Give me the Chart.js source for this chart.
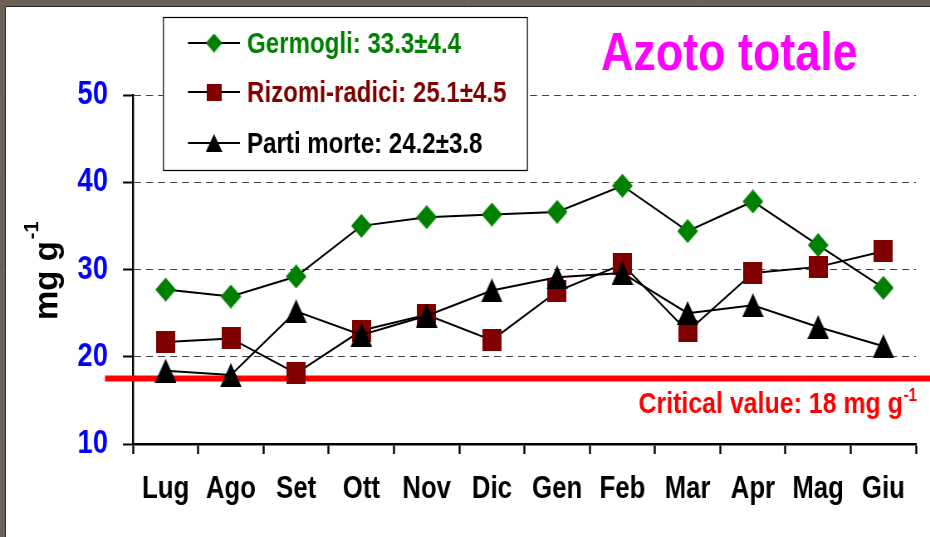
<!DOCTYPE html>
<html>
<head>
<meta charset="utf-8">
<script src="https://cdn.jsdelivr.net/npm/chart.js@4.4.1/dist/chart.umd.min.js"></script>
<style>
  html, body { margin: 0; padding: 0; background: #fff; overflow: hidden; }
  #wrap { width: 930px; height: 537px; }
  /* il grafico originale e' compresso in orizzontale: disegno largo e stringo col CSS */
  #azoto { display: block; width: 930px !important; height: 537px !important; }
</style>
</head>
<body>
<div id="wrap"><canvas id="azoto" width="1120" height="537"></canvas></div>
<script>
// dati (mg g-1)
const mesi = ['Lug', 'Ago', 'Set', 'Ott', 'Nov', 'Dic', 'Gen', 'Feb', 'Mar', 'Apr', 'Mag', 'Giu']
const germogli = [27.7, 26.9, 29.2, 35.0, 36.0, 36.3, 36.6, 39.6, 34.4, 37.8, 32.8, 27.9]
const rizomi = [21.7, 22.1, 18.1, 23.0, 24.8, 21.9, 27.5, 30.6, 22.9, 29.6, 30.3, 32.1]
const partiMorte = [18.4, 17.9, 25.2, 22.5, 24.7, 27.6, 29.1, 29.6, 25.0, 25.9, 23.4, 21.2]
const etichette = ['Germogli: 33.3±4.4', 'Rizomi-radici: 25.1±4.5', 'Parti morte: 24.2±3.8']
const yTicks = [10, 20, 30, 40, 50]
const valoreCritico = 17.5
const testoCritico = 'Critical value: 18 mg g'
const titolo = 'Azoto totale'

const FONT = '"Liberation Sans", Arial, sans-serif'
const VERDE = '#008000'
const ROSSO_SCURO = '#800000'

// larghezza interna del canvas / larghezza a schermo
const K = 930 / 1120
const sx = (x) => x / K

const marker = (tipo, colore, w, h) => {
  const c = document.createElement('canvas')
  c.width = Math.round(w / K)
  c.height = h
  const W = c.width
  const g = c.getContext('2d')
  g.fillStyle = colore
  g.beginPath()
  if (tipo == 'diamond') {
    g.moveTo(W / 2, 0); g.lineTo(W, h / 2); g.lineTo(W / 2, h); g.lineTo(0, h / 2)
  } else if (tipo == 'square') {
    g.rect(0, 0, W, h)
  } else {
    g.moveTo(W / 2, 0); g.lineTo(W, h); g.lineTo(0, h)
  }
  g.closePath()
  g.fill()
  return c
}

const punti = [
  marker('diamond', VERDE, 21, 24),
  marker('square', ROSSO_SCURO, 19, 22),
  marker('triangle', '#000', 22, 24)
]
const puntiLegenda = [
  marker('diamond', VERDE, 17, 19),
  marker('square', ROSSO_SCURO, 15, 17),
  marker('triangle', '#000', 17, 18)
]
const coloriTesto = [VERDE, ROSSO_SCURO, '#000']

const decori = {
  id: 'decori',
  beforeDraw: (chart) => {
    const ctx = chart.ctx
    ctx.save()
    ctx.fillStyle = '#6d6155'
    ctx.fillRect(0, 0, chart.width, chart.height)
    ctx.fillStyle = '#fff'
    ctx.fillRect(sx(5), 6, chart.width, chart.height)
    ctx.strokeStyle = '#222'
    ctx.lineWidth = 1
    ctx.beginPath()
    ctx.moveTo(sx(5) + 0.5, chart.height)
    ctx.lineTo(sx(5) + 0.5, 6.5)
    ctx.lineTo(chart.width, 6.5)
    ctx.stroke()
    ctx.restore()
  },
  beforeDatasetsDraw: (chart) => {
    const ctx = chart.ctx
    const y = chart.scales.y.getPixelForValue(valoreCritico)
    ctx.save()
    ctx.strokeStyle = '#ff0000'
    ctx.lineWidth = 6
    ctx.beginPath()
    ctx.moveTo(sx(105), y)
    ctx.lineTo(chart.width, y)
    ctx.stroke()
    ctx.restore()
  },
  afterDraw: (chart) => {
    const ctx = chart.ctx
    ctx.save()

    // legenda
    ctx.fillStyle = '#fff'
    ctx.fillRect(sx(163), 17, sx(364), 153)
    ctx.strokeStyle = '#000'
    ctx.lineWidth = 1.2
    ctx.strokeRect(sx(163) + 0.5, 17.5, sx(364), 153)
    const righe = [43, 92, 143]
    ctx.font = 'bold 29px ' + FONT
    ctx.textAlign = 'left'
    ctx.textBaseline = 'alphabetic'
    chart.data.datasets.forEach((ds, i) => {
      const y = righe[i]
      ctx.strokeStyle = '#000'
      ctx.lineWidth = 2
      ctx.beginPath()
      ctx.moveTo(sx(188), y)
      ctx.lineTo(sx(240), y)
      ctx.stroke()
      const m = puntiLegenda[i]
      ctx.drawImage(m, sx(214) - m.width / 2, y - m.height / 2)
      ctx.fillStyle = coloriTesto[i]
      ctx.fillText(ds.label, sx(247), y + 10)
    })

    // titolo
    ctx.fillStyle = '#ff00ff'
    ctx.font = 'bold 54px ' + FONT
    ctx.fillText(titolo, sx(601), 70)

    // etichetta valore critico
    ctx.fillStyle = '#ff0000'
    ctx.font = 'bold 18px ' + FONT
    const wSup = ctx.measureText('-1').width
    ctx.font = 'bold 30px ' + FONT
    const wTesto = ctx.measureText(testoCritico).width
    const x0 = sx(917) - wSup - 1 - wTesto
    ctx.fillText(testoCritico, x0, 413)
    ctx.font = 'bold 18px ' + FONT
    ctx.fillText('-1', x0 + wTesto + 1, 401)

    // titolo asse y (non compresso: ruotato)
    ctx.fillStyle = '#000'
    ctx.translate(sx(57), 320)
    ctx.scale(1 / K, 1)
    ctx.rotate(-Math.PI / 2)
    ctx.font = 'bold 33px ' + FONT
    const wMg = ctx.measureText('mg g').width
    ctx.fillText('mg g', 0, 0)
    ctx.font = 'bold 20px ' + FONT
    ctx.fillText('-1', wMg + 2, -19)

    ctx.restore()
  }
}

const serie = [germogli, rizomi, partiMorte]
const ordine = [2, 1, 0]

new Chart(document.getElementById('azoto'), {
  type: 'line',
  data: {
    labels: mesi,
    datasets: serie.map((d, i) => ({
      label: etichette[i],
      data: d,
      borderColor: '#000',
      borderWidth: 2,
      backgroundColor: coloriTesto[i],
      pointStyle: punti[i],
      pointRadius: 10,
      fill: false,
      tension: 0,
      order: ordine[i]
    }))
  },
  options: {
    responsive: false,
    devicePixelRatio: 1,
    animation: false,
    layout: { padding: { top: 95, right: sx(14), left: 0, bottom: 0 } },
    plugins: {
      legend: { display: false },
      tooltip: { enabled: false }
    },
    scales: {
      x: {
        offset: true,
        ticks: {
          color: '#000',
          font: { family: FONT, size: 31, weight: 'bold' },
          padding: 17,
          maxRotation: 0,
          autoSkip: false
        },
        grid: { drawOnChartArea: false, offset: true, tickLength: 10, tickWidth: 2.4, tickColor: '#000' },
        border: { color: '#000', width: 2.5 },
        afterFit: (s) => { s.height = 93 }
      },
      y: {
        min: 10,
        max: 50,
        afterBuildTicks: (s) => { s.ticks = yTicks.map(v => ({ value: v })) },
        ticks: {
          color: '#0000ff',
          font: { family: FONT, size: 33, weight: 'bold' },
          padding: sx(15)
        },
        grid: {
          color: (c) => c.tick && c.tick.value == 10 ? 'rgba(0,0,0,0)' : '#444',
          lineWidth: 1,
          tickLength: sx(10),
          tickWidth: 2,
          tickColor: '#000'
        },
        border: { color: '#000', width: 2.4, dash: [sx(7), sx(5)] },
        afterFit: (s) => { s.width = sx(133) }
      }
    }
  },
  plugins: [decori]
})
</script>
</body>
</html>
